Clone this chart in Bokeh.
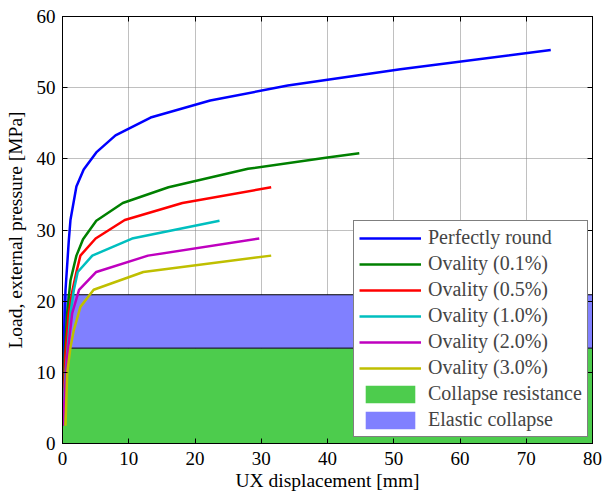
from bokeh.plotting import figure
from bokeh.models import Legend, LegendItem, LinearAxis, FixedTicker, Range1d
from bokeh.embed import file_html
from bokeh.resources import INLINE

# ---- data ----
x_ticks = [0, 10, 20, 30, 40, 50, 60, 70, 80]
y_ticks = [0, 10, 20, 30, 40, 50, 60]

round_x = [0.05, 0.2, 0.45, 0.95, 1.2, 2.1, 3.2, 5.1, 8.0, 13.3, 22.3, 34.0, 51.0, 73.7]
round_y = [2.5, 14.5, 21.5, 28.5, 31.4, 36.1, 38.5, 40.9, 43.3, 45.8, 48.2, 50.3, 52.6, 55.3]

ov01_x = [0.05, 0.3, 0.7, 1.2, 2.1, 3.1, 5.1, 9.1, 16.0, 28.0, 40.0, 44.8]
ov01_y = [2.5, 12.0, 18.3, 22.9, 26.4, 28.7, 31.3, 33.8, 36.0, 38.6, 40.2, 40.8]

ov05_x = [0.05, 0.4, 0.9, 1.5, 2.1, 2.7, 5.0, 9.4, 18.1, 31.5]
ov05_y = [2.5, 12.0, 18.0, 21.5, 24.1, 26.4, 28.8, 31.4, 33.8, 36.0]

ov10_x = [0.05, 0.45, 1.2, 1.7, 2.3, 4.5, 10.5, 23.7]
ov10_y = [2.5, 9.8, 18.3, 21.5, 24.1, 26.4, 28.8, 31.3]

ov20_x = [0.05, 0.7, 1.46, 2.5, 5.1, 12.9, 29.7]
ov20_y = [2.5, 12.1, 18.3, 21.6, 24.1, 26.4, 28.8]

ov30_x = [0.45, 0.7, 1.2, 1.7, 2.7, 4.7, 12.2, 31.5]
ov30_y = [2.5, 9.8, 13.5, 15.9, 19.2, 21.6, 24.1, 26.4]

band_x = [0, 80]
collapse_resistance = 13.4
elastic_collapse = 20.9

series = [
    ("Perfectly round", round_x, round_y, "#0000FF"),
    ("Ovality (0.1%)", ov01_x, ov01_y, "#008000"),
    ("Ovality (0.5%)", ov05_x, ov05_y, "#FF0000"),
    ("Ovality (1.0%)", ov10_x, ov10_y, "#00BFBF"),
    ("Ovality (2.0%)", ov20_x, ov20_y, "#BF00BF"),
    ("Ovality (3.0%)", ov30_x, ov30_y, "#BFBF00"),
]

FONT = "Liberation Serif"
FS = "19px"
FS_LABEL = "19.5px"
FS_LEGEND = "20px"

p = figure(width=602, height=497, x_range=Range1d(band_x[0], band_x[1]), y_range=Range1d(0, 60),
           output_backend="svg", toolbar_location=None,
           min_border_left=62, min_border_right=10, min_border_top=16, min_border_bottom=54)

p.background_fill_color = "white"
p.border_fill_color = "white"
p.outline_line_color = "black"
p.outline_line_width = 1

# bands
q_green = p.quad(left=[band_x[0]], right=[band_x[1]], bottom=[0], top=[collapse_resistance],
                 fill_color="#4DCC4D", line_color=None)
q_blue = p.quad(left=[band_x[0]], right=[band_x[1]], bottom=[collapse_resistance], top=[elastic_collapse],
                fill_color="#8080FF", line_color=None)
p.segment(x0=[band_x[0], band_x[0]], x1=[band_x[1], band_x[1]],
          y0=[collapse_resistance, elastic_collapse], y1=[collapse_resistance, elastic_collapse],
          line_color="black", line_width=1)

line_items = []
for name, xs, ys, col in series:
    r = p.line(xs, ys, line_color=col, line_width=2.5)
    line_items.append(LegendItem(label=name, renderers=[r]))

items = line_items + [LegendItem(label="Collapse resistance", renderers=[q_green]),
                      LegendItem(label="Elastic collapse", renderers=[q_blue])]

legend = Legend(items=items, location=(291, 6), margin=0, padding=5, spacing=3,
                glyph_width=62, glyph_height=22, label_height=22, label_standoff=7,
                label_text_font=FONT, label_text_font_size=FS_LEGEND,
                border_line_color="black", border_line_width=1,
                background_fill_color="white", background_fill_alpha=1.0)
p.add_layout(legend)

# axes
for ax in (p.xaxis[0], p.yaxis[0]):
    ax.major_label_text_font = FONT
    ax.major_label_text_font_size = FS
    ax.axis_label_text_font = FONT
    ax.axis_label_text_font_size = FS_LABEL
    ax.axis_label_text_font_style = "normal"
    ax.major_tick_in = 5
    ax.major_tick_out = 0
    ax.minor_tick_line_color = None
    ax.axis_line_color = "black"
    ax.major_tick_line_color = "black"
    ax.major_label_text_color = "black"
    ax.axis_label_text_color = "black"

p.xaxis.ticker = FixedTicker(ticks=x_ticks)
p.yaxis.ticker = FixedTicker(ticks=y_ticks)
p.xaxis.axis_label = "UX displacement [mm]"
p.yaxis.axis_label = "Load, external pressure [MPa]"
p.xaxis.major_label_standoff = 8
p.xaxis.axis_label_standoff = 2
p.yaxis.major_label_standoff = 7
p.yaxis.axis_label_standoff = 8

top_ax = LinearAxis(ticker=FixedTicker(ticks=x_ticks),
                    major_label_overrides={t: "" for t in x_ticks},
                    major_tick_in=5, major_tick_out=0, minor_tick_line_color=None,
                    axis_line_color="black", major_label_standoff=0)
right_ax = LinearAxis(ticker=FixedTicker(ticks=y_ticks),
                      major_label_overrides={t: "" for t in y_ticks},
                      major_tick_in=5, major_tick_out=0, minor_tick_line_color=None,
                      axis_line_color="black", major_label_standoff=0)
p.add_layout(top_ax, "above")
p.add_layout(right_ax, "right")

p.xgrid.ticker = FixedTicker(ticks=x_ticks)
p.ygrid.ticker = FixedTicker(ticks=y_ticks)
for g in (p.xgrid[0], p.ygrid[0]):
    g.grid_line_color = "#808080"
    g.grid_line_dash = "1 1"
    g.grid_line_width = 1
    g.grid_line_alpha = 1.0

open("out.html", "w").write(file_html(p, INLINE))
